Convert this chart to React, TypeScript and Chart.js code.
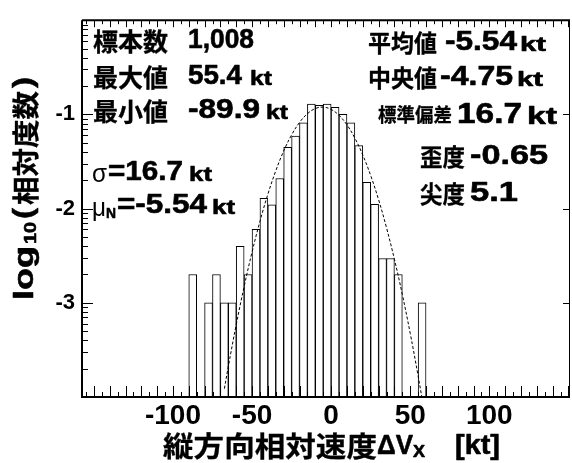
import React, { useEffect, useRef } from "react";
import { Chart, registerables } from "chart.js";

Chart.register(...registerables);

// ---- data ----
const binCenters = [
  -87.5, -82.5, -77.5, -72.5, -67.5, -62.5, -57.5, -52.5, -47.5, -42.5,
  -37.5, -32.5, -27.5, -22.5, -17.5, -12.5, -7.5, -2.5, 2.5, 7.5,
  12.5, 17.5, 22.5, 27.5, 32.5, 37.5, 42.5, 47.5, 52.5, 57.5,
];
const log10Freq: (number | null)[] = [
  -2.7, null, -3.0, -2.7, -3.0, -3.0, -2.4, -2.7, -2.22, -1.89,
  -1.96, -1.68, -1.35, -1.23, -1.09, -0.89, -0.905, -0.89, -0.925, -1.0,
  -1.09, -1.33, -1.72, -1.955, -2.53, -2.53, -2.7, null, null, -3.0,
];
const fitX = [
  -67.5, -65, -60, -55, -50, -45, -40, -35, -30, -25, -20, -15, -10, -5,
  0, 5, 10, 15, 20, 25, 30, 35, 40, 45, 50, 55, 57.5,
];
const fitY = [
  -3.912, -3.676, -3.232, -2.828, -2.462, -2.135, -1.848, -1.599, -1.389,
  -1.218, -1.086, -0.993, -0.938, -0.923, -0.947, -1.01, -1.111, -1.252,
  -1.431, -1.649, -1.906, -2.203, -2.538, -2.912, -3.325, -3.777, -4.017,
];
const xTickValues = [-100, -50, 0, 50, 100];
const yTickValues = [-3, -2, -1];
const X_MIN = -157.5;
const X_MAX = 151;
const Y_MIN = -4;
const Y_MAX = 0;

const statLabelsLeft = ["標本数", "最大値", "最小値"];
const statValuesLeft = ["1,008", "55.4", "-89.9"];
const statLabelsRight = ["平均値", "中央値", "標準偏差", "歪度", "尖度"];
const statValuesRight = ["-5.54", "-4.75", "16.7", "-0.65", "5.1"];
const sigmaText = ["σ", "=16.7"];
const muText = ["μ", "N", "=-5.54"];
const unitText = "kt";
const xTitleParts = ["縦方向相対速度", "ΔV", "X", "[kt]"];
const yTitleParts = ["log", "10", "(", "相対度数", ")"];

const LAT = '"Liberation Sans", Arial, Helvetica, sans-serif';
const CJK = '"Noto Sans CJK JP", "Noto Sans CJK SC", sans-serif';

type Run = { t: string; x: number; y: number; size: number; weight?: string; fam?: string; w?: number; stroke?: number };

function drawRun(ctx: CanvasRenderingContext2D, r: Run) {
  ctx.save();
  ctx.font = `${r.weight || "bold"} ${r.size}px ${r.fam || LAT}`;
  ctx.textBaseline = "middle";
  ctx.textAlign = "left";
  ctx.fillStyle = "#000";
  ctx.strokeStyle = "#000";
  const nat = ctx.measureText(r.t).width;
  const sx = r.w ? r.w / nat : 1;
  ctx.translate(r.x, r.y);
  ctx.scale(sx, 1);
  ctx.fillText(r.t, 0, 0);
  const sw = r.stroke === undefined ? (r.weight === "normal" ? 0 : 0.6) : r.stroke;
  if (sw > 0) {
    ctx.lineWidth = sw;
    ctx.lineJoin = "round";
    ctx.strokeText(r.t, 0, 0);
  }
  ctx.restore();
}

const decorPlugin = {
  id: "decor",
  afterDraw(chart: any) {
    const ctx: CanvasRenderingContext2D = chart.ctx;
    const { left, right, top, bottom } = chart.chartArea;
    const xs = chart.scales.x;
    const ys = chart.scales.y;
    ctx.save();
    ctx.strokeStyle = "#000";
    ctx.lineWidth = 1;
    ctx.beginPath();
    for (let v = Math.ceil(X_MIN / 5) * 5; v <= X_MAX; v += 5) {
      const px = Math.round(xs.getPixelForValue(v)) + 0.5;
      const major = v % 10 === 0;
      ctx.moveTo(px, bottom);
      ctx.lineTo(px, bottom - (major ? 11 : 5));
      ctx.moveTo(px, top);
      ctx.lineTo(px, top + (major ? 7 : 4));
    }
    for (let n = Y_MIN; n < Y_MAX; n++) {
      for (let k = 1; k <= 9; k++) {
        const v = n + Math.log10(k);
        const py = Math.round(ys.getPixelForValue(v)) + 0.5;
        const major = k === 1;
        ctx.moveTo(left, py);
        ctx.lineTo(left + (major ? 11 : 6), py);
        if (major) {
          ctx.moveTo(right, py);
          ctx.lineTo(right - 7, py);
        }
      }
    }
    ctx.stroke();
    ctx.lineWidth = 2;
    ctx.beginPath();
    ctx.moveTo(left, top);
    ctx.lineTo(left, bottom);
    ctx.lineTo(right, bottom);
    ctx.moveTo(left, top);
    ctx.lineTo(right, top);
    ctx.stroke();
    ctx.lineWidth = 1;
    ctx.beginPath();
    ctx.moveTo(right - 0.5, top);
    ctx.lineTo(right - 0.5, bottom);
    ctx.stroke();

    // statistics, left column
    const ly = [41, 77, 111];
    const lkt = [null, 250, 266];
    const lw = [66, 54, 72];
    statLabelsLeft.forEach((s, i) => {
      drawRun(ctx, { t: s, x: 93, y: ly[i], size: 25, fam: CJK, w: 75, stroke: 0.3 });
      drawRun(ctx, { t: statValuesLeft[i], x: 188, y: ly[i], size: 27, w: lw[i] });
      if (lkt[i] !== null) drawRun(ctx, { t: unitText, x: lkt[i] as number, y: ly[i] + 2.5, size: 21, w: 22 });
    });
    drawRun(ctx, { t: sigmaText[0], x: 92, y: 175, size: 26, weight: "normal", w: 15 });
    drawRun(ctx, { t: sigmaText[1], x: 108, y: 172.5, size: 27, w: 75 });
    drawRun(ctx, { t: unitText, x: 189, y: 175, size: 21, w: 23 });
    drawRun(ctx, { t: muText[0], x: 92, y: 209, size: 26, weight: "normal", w: 14 });
    drawRun(ctx, { t: muText[1], x: 106, y: 214, size: 15, w: 10 });
    drawRun(ctx, { t: muText[2], x: 117, y: 206, size: 27, w: 90 });
    drawRun(ctx, { t: unitText, x: 212, y: 208.5, size: 21, w: 23 });

    // statistics, right column
    const rl = [
      { x: 368, y: 43, size: 24, w: 69 },
      { x: 368, y: 78, size: 24, w: 69 },
      { x: 378, y: 115, size: 19, w: 74 },
      { x: 420, y: 157, size: 24, w: 45 },
      { x: 420, y: 194, size: 24, w: 45 },
    ];
    const rv = [
      { x: 445, size: 27, w: 72 },
      { x: 440, size: 27, w: 73 },
      { x: 457, size: 30, w: 65 },
      { x: 470, size: 27, w: 78 },
      { x: 470, size: 27, w: 48 },
    ];
    const rk = [520, 517, 527, null, null];
    statLabelsRight.forEach((s, i) => {
      drawRun(ctx, { t: s, x: rl[i].x, y: rl[i].y, size: rl[i].size, fam: CJK, w: rl[i].w, stroke: 0.3 });
      drawRun(ctx, { t: statValuesRight[i], x: rv[i].x, y: rl[i].y, size: rv[i].size, w: rv[i].w });
      if (rk[i] !== null) drawRun(ctx, { t: unitText, x: rk[i] as number, y: rl[i].y + 2.5, size: i === 2 ? 23 : 21, w: i === 2 ? 30 : 26 });
    });

    // x axis title
    const ty = 446;
    drawRun(ctx, { t: xTitleParts[0], x: 163, y: ty, size: 28, fam: CJK, w: 214, stroke: 0.3 });
    drawRun(ctx, { t: xTitleParts[1], x: 377, y: ty, size: 28, w: 36 });
    drawRun(ctx, { t: xTitleParts[2], x: 413, y: ty + 6, size: 17, w: 12 });
    drawRun(ctx, { t: xTitleParts[3], x: 455, y: ty, size: 28, w: 45 });

    // y axis title (rotated)
    ctx.save();
    ctx.translate(26, 300);
    ctx.rotate(-Math.PI / 2);
    drawRun(ctx, { t: yTitleParts[0], x: 0, y: -1, size: 28, w: 54 });
    drawRun(ctx, { t: yTitleParts[1], x: 56, y: 5, size: 17, w: 22 });
    drawRun(ctx, { t: yTitleParts[2], x: 81, y: -1, size: 27, w: 11 });
    drawRun(ctx, { t: yTitleParts[3], x: 95, y: 0, size: 27, fam: CJK, w: 114, stroke: 0.3 });
    drawRun(ctx, { t: yTitleParts[4], x: 212, y: -1, size: 27, w: 11 });
    ctx.restore();

    ctx.restore();
  },
};

export default function App() {
  const ref = useRef<HTMLCanvasElement | null>(null);
  useEffect(() => {
    if (!ref.current) return;
    const barData = binCenters
      .map((c, i) => ({ x: c, v: log10Freq[i] }))
      .filter((d) => d.v !== null)
      .map((d) => ({ x: d.x, y: [Y_MIN, d.v as number] }));
    const lineData = fitX.map((x, i) => ({ x, y: fitY[i] }));
    const chart = new Chart(ref.current, {
      type: "bar",
      data: {
        datasets: [
          {
            type: "line",
            data: lineData as any,
            borderColor: "#000",
            borderWidth: 1,
            borderDash: [3, 2],
            pointRadius: 0,
            tension: 0.4,
            fill: false,
            order: 0,
          } as any,
          {
            type: "bar",
            data: barData as any,
            backgroundColor: "#fff",
            borderColor: "#000",
            borderWidth: 1,
            borderSkipped: false,
            barPercentage: 1,
            categoryPercentage: 1,
            order: 1,
          } as any,
        ],
      },
      options: {
        responsive: false,
        animation: false,
        events: [],
        layout: { padding: { top: 14, right: 2, left: 0, bottom: 0 } },
        plugins: { legend: { display: false }, tooltip: { enabled: false }, title: { display: false } },
        scales: {
          x: {
            type: "linear",
            min: X_MIN,
            max: X_MAX,
            offset: false,
            grid: { display: false, drawTicks: false, offset: false },
            border: { display: false },
            afterBuildTicks: (s: any) => {
              s.ticks = xTickValues.map((v) => ({ value: v }));
            },
            afterFit: (s: any) => {
              s.height = 66;
            },
            ticks: {
              color: "#000",
              padding: 2,
              maxRotation: 0,
              autoSkip: false,
              font: { family: LAT, size: 28, weight: "bold" },
              callback: (v: any) => String(v),
            },
          },
          y: {
            type: "linear",
            min: Y_MIN,
            max: Y_MAX,
            grid: { display: false, drawTicks: false },
            border: { display: false },
            afterBuildTicks: (s: any) => {
              s.ticks = yTickValues.map((v) => ({ value: v }));
            },
            afterFit: (s: any) => {
              s.width = 82;
            },
            ticks: {
              color: "#000",
              padding: 7,
              autoSkip: false,
              font: { family: LAT, size: 22, weight: "bold" },
              callback: (v: any) => String(v),
            },
          },
        },
      } as any,
      plugins: [decorPlugin],
    });
    return () => chart.destroy();
  }, []);
  return (
    <div style={{ position: "fixed", left: 0, top: 0, width: 572, height: 463, background: "#fff" }}>
      <canvas ref={ref} width={572} height={463} style={{ display: "block" }} />
    </div>
  );
}
